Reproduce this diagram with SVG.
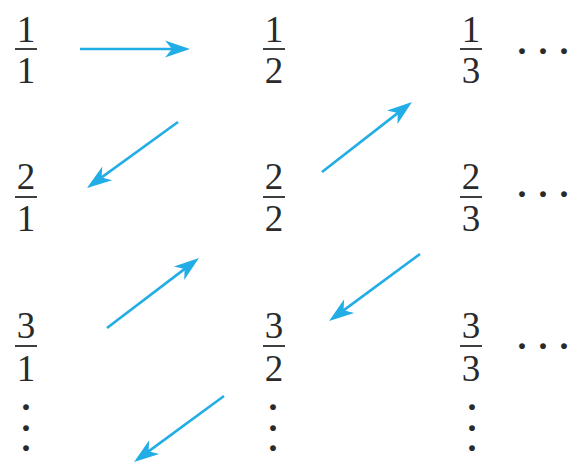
<svg xmlns="http://www.w3.org/2000/svg" width="568" height="464" viewBox="0 0 568 464">
<style>
.d{font-family:"Liberation Serif",serif;font-size:37px;fill:#2a2a2a;text-anchor:middle}
.bar{stroke:#2a2a2a;stroke-width:1.8}
.dt{font-family:"Liberation Serif",serif;font-size:36px;font-weight:bold;fill:#2a2a2a;text-anchor:middle}
.arr{stroke:#22ADE6;stroke-width:2.6;fill:none;marker-end:url(#ah)}
</style>
<defs>
<marker id="ah" markerUnits="userSpaceOnUse" viewBox="-18 -10 30 20" refX="0" refY="0" markerWidth="30" markerHeight="20" orient="auto">
<path d="M10,0 L-15,-8.5 L-8,0 L-15,8.5 Z" fill="#22ADE6"/>
</marker>
</defs>
<rect width="568" height="464" fill="#fff"/>
<g id="f11"><text class="d" x="26" y="42">1</text><line class="bar" x1="15" y1="49" x2="37" y2="49"/><text class="d" x="26" y="83">1</text></g>
<g id="f12"><text class="d" x="274" y="42">1</text><line class="bar" x1="263" y1="49" x2="285" y2="49"/><text class="d" x="274" y="83">2</text></g>
<g id="f13"><text class="d" x="471" y="42">1</text><line class="bar" x1="460" y1="49" x2="482" y2="49"/><text class="d" x="471" y="83">3</text></g>
<g id="f21"><text class="d" x="26" y="189">2</text><line class="bar" x1="15" y1="197" x2="37" y2="197"/><text class="d" x="26" y="231">1</text></g>
<g id="f22"><text class="d" x="274" y="189">2</text><line class="bar" x1="263" y1="197" x2="285" y2="197"/><text class="d" x="274" y="231">2</text></g>
<g id="f23"><text class="d" x="471" y="189">2</text><line class="bar" x1="460" y1="197" x2="482" y2="197"/><text class="d" x="471" y="231">3</text></g>
<g id="f31"><text class="d" x="26" y="338">3</text><line class="bar" x1="15" y1="346" x2="37" y2="346"/><text class="d" x="26" y="381">1</text></g>
<g id="f32"><text class="d" x="274" y="338">3</text><line class="bar" x1="263" y1="346" x2="285" y2="346"/><text class="d" x="274" y="381">2</text></g>
<g id="f33"><text class="d" x="471" y="338">3</text><line class="bar" x1="460" y1="346" x2="482" y2="346"/><text class="d" x="471" y="381">3</text></g>
<g id="hdots1"><text class="dt" x="543" y="63">· · ·</text></g>
<g id="hdots2"><text class="dt" x="543" y="206">· · ·</text></g>
<g id="hdots3"><text class="dt" x="543" y="358">· · ·</text></g>
<g id="vdots1"><text class="dt" x="26" y="419">·<tspan x="26" dy="20.5">·</tspan><tspan x="26" dy="20.5">·</tspan></text></g>
<g id="vdots2"><text class="dt" x="273" y="419">·<tspan x="273" dy="20.5">·</tspan><tspan x="273" dy="20.5">·</tspan></text></g>
<g id="vdots3"><text class="dt" x="472" y="419">·<tspan x="472" dy="20.5">·</tspan><tspan x="472" dy="20.5">·</tspan></text></g>
<g id="connectors">
<line class="arr" x1="80" y1="49" x2="180" y2="49"/>
<line class="arr" x1="178" y1="122" x2="95.1" y2="182.1"/>
<line class="arr" x1="322" y1="172" x2="404.1" y2="108.1"/>
<line class="arr" x1="107" y1="328" x2="191" y2="264.1"/>
<line class="arr" x1="420" y1="254" x2="337.1" y2="315.1"/>
<line class="arr" x1="224" y1="396" x2="142.1" y2="456.1"/>
</g>
</svg>
